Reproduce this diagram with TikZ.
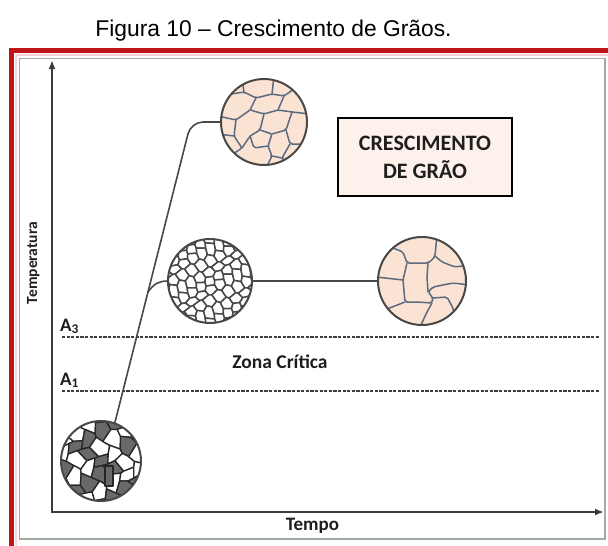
\documentclass[tikz,border=0pt]{standalone}
\usepackage{fontspec}
\setmainfont{Liberation Sans}
\newfontfamily\labelfont{Carlito}
\usetikzlibrary{arrows.meta,calc}

\definecolor{framered}{RGB}{190,20,25}
\definecolor{framepink}{RGB}{250,212,212}
\definecolor{framegray}{RGB}{160,172,162}
\definecolor{axisgray}{RGB}{60,60,60}
\definecolor{peach}{RGB}{251,227,211}
\definecolor{boundary}{RGB}{92,106,128}
\definecolor{rim}{RGB}{72,72,72}
\definecolor{darkgrain}{RGB}{105,105,105}
\definecolor{boxfill}{RGB}{253,241,235}
\definecolor{inkgray}{RGB}{30,30,30}

% one vertex of a jittered hexagonal grain cell
\newcommand{\grv}[1]{({jx(\grx+\grs*cos(60*#1),\gry+\grs*sin(60*#1),\grj)},{jy(\grx+\grs*cos(60*#1),\gry+\grs*sin(60*#1),\grj)})}
% grain field: #1 cell size, #2 jitter, #3 radius, #4 dark threshold, #5 line style
\newcommand{\grainfield}[5]{%
  \def\grs{#1}\def\grj{#2}%
  \foreach \i in {-8,...,8}{%
    \foreach \j in {-6,...,6}{%
      \pgfmathsetmacro\grx{\i*1.5*\grs}%
      \pgfmathsetmacro\gry{(\j+0.5*mod(\i+16,2))*1.7320508*\grs}%
      \pgfmathtruncatemacro\grin{veclen(\grx,\gry)<(#3+\grs) ? 1 : 0}%
      \ifnum\grin=1
        \pgfmathtruncatemacro\grdk{sin(97*\i+131*\j+23)>#4 ? 1 : 0}%
        \ifnum\grdk=1 \def\grfill{darkgrain}\else\def\grfill{white}\fi
        \draw[#5, fill=\grfill] \grv{0} -- \grv{1} -- \grv{2} -- \grv{3} -- \grv{4} -- \grv{5} -- cycle;
      \fi
    }}}

\tikzset{
  axis/.style={draw=axisgray, line width=2pt, -{Latex[length=9pt,width=7pt]}},
  critline/.style={draw=axisgray, line width=2.3pt, dash pattern=on 3.2pt off 1.4pt},
  pathline/.style={draw=rim, line width=1.6pt},
  rimline/.style={draw=rim, line width=2pt},
  coarse/.style={draw=boundary, line width=1.5pt, line join=round, line cap=round, rounded corners=2pt},
  fine/.style={draw=rim, line width=1.5pt, line join=round},
  mixed/.style={draw=black!85, line width=1.3pt, line join=round},
  spot/.style={circle, minimum size=#1, inner sep=0pt},
  lbl/.style={text=inkgray, inner sep=0pt, anchor=base},
}

\begin{document}
\begin{tikzpicture}[x=1pt,y=-1pt,
  declare function={jx(\x,\y,\s)=\x+\s*sin(37*\x+59*\y+11);
                    jy(\x,\y,\s)=\y+\s*sin(53*\x-41*\y+7);}]
\useasboundingbox (0,0) rectangle (608,546);
\fill[white] (0,0) rectangle (608,546);

% caption
\node[inner sep=0pt, anchor=base, font=\fontsize{22.8}{26}\selectfont] (title) at (273.5,36) {Figura 10 – Crescimento de Grãos.};

% frames
\draw[framepink, line width=1.5pt] (608,55) -- (16,55) -- (16,546);
\draw[framered, line width=5pt, line join=miter] (608,50.5) -- (11.5,50.5) -- (11.5,546);
\draw[framegray, line width=1.5pt] (19.5,58.5) rectangle (605,539);

% axes
\coordinate (origin) at (52,512);
\coordinate (ytip) at (52,60);
\coordinate (xtip) at (604,512);
\draw[axis] (origin) -- (ytip);
\draw[axis] ([xshift=-1pt]origin) -- (xtip);
\node[lbl, font=\labelfont\bfseries\fontsize{15.5}{18}\selectfont, rotate=90] (ylabel) at (37,263) {Temperatura};
\node[lbl, font=\labelfont\bfseries\fontsize{19}{22}\selectfont] (xlabel) at (312.5,530.5) {Tempo};

% critical temperatures
\coordinate (a3l) at (62,337); \coordinate (a3r) at (600,337);
\coordinate (a1l) at (62,391); \coordinate (a1r) at (600,391);
\draw[critline] (a3l) -- (a3r);
\draw[critline] (a1l) -- (a1r);
\node[lbl, anchor=base west, font=\labelfont\bfseries\fontsize{19}{22}\selectfont] (a3) at (60,331) {A\textsubscript{3}};
\node[lbl, anchor=base west, font=\labelfont\bfseries\fontsize{19}{22}\selectfont] (a1) at (60,385) {A\textsubscript{1}};
\node[lbl, font=\labelfont\bfseries\fontsize{19.5}{22}\selectfont] (zona) at (280,368) {Zona Crítica};

% title box
\node[draw=black, line width=1.5pt, fill=boxfill, minimum width=174pt, minimum height=78pt, inner sep=0pt] (box) at (425,157) {};
\node[lbl, font=\labelfont\bfseries\fontsize{22}{26}\selectfont] (boxl1) at (425,150) {CRESCIMENTO};
\node[lbl, font=\labelfont\bfseries\fontsize{22}{26}\selectfont] (boxl2) at (425,178) {DE GRÃO};

% microstructure spots
\node[spot=80pt] (start) at (101,461) {};
\node[spot=84pt] (fine) at (210,281) {};
\node[spot=86pt] (hot) at (264,122) {};
\node[spot=88pt] (grown) at (422,281) {};

% heating paths
\coordinate (corner) at (191,122);
\coordinate (fork) at ($(start.70)!0.435!(corner)$);
\draw[pathline, rounded corners=12pt] (start.70) -- (corner) -- (hot.west);
\draw[pathline] (fork) .. controls +(6,-9) and +(-8,0) .. (fine.west);
\draw[pathline] (fine.east) -- (grown.west);

% initial mixed structure
\begin{scope}[shift={(start.center)}]
  \clip (0,0) circle[radius=40pt];
  \fill[white] (0,0) circle[radius=40pt];
  \grainfield{8.5}{3}{40}{0.35}{mixed}
  \draw[mixed, fill=darkgrain] (4,5) rectangle (12,25);
\end{scope}
\draw[rimline] (start.center) circle[radius=40pt];

% fine recrystallised grains
\begin{scope}[shift={(fine.center)}]
  \clip (0,0) circle[radius=42pt];
  \fill[white] (0,0) circle[radius=42pt];
  \grainfield{6}{1.8}{42}{2}{fine}
\end{scope}
\draw[rimline] (fine.center) circle[radius=42pt];

% coarse grains at high temperature
\begin{scope}[shift={(hot.center)}]
  \fill[peach] (0,0) circle[radius=43pt];
  \clip (0,0) circle[radius=43pt];
  \draw[coarse] (-33,-28) -- (-20,-30) -- (-8,-24) -- (8,-28) -- (20,-26) -- (30,-33);
  \draw[coarse] (-20,-30) -- (-22,-44);
  \draw[coarse] (8,-28) -- (10,-46);
  \draw[coarse] (-8,-24) -- (-14,-12) -- (0,-8) -- (14,-12) -- (28,-10) -- (46,-8);
  \draw[coarse] (20,-26) -- (14,-12);
  \draw[coarse] (-46,-6) -- (-28,-2) -- (-14,-12);
  \draw[coarse] (-28,-2) -- (-30,14) -- (-22,26) -- (-34,34);
  \draw[coarse] (-30,14) -- (-46,12);
  \draw[coarse] (0,-8) -- (-4,8) -- (-14,14) -- (-22,26);
  \draw[coarse] (-4,8) -- (8,12) -- (4,24) -- (8,34) -- (2,46);
  \draw[coarse] (8,12) -- (22,8) -- (28,-10);
  \draw[coarse] (22,8) -- (26,22) -- (46,22);
  \draw[coarse] (4,24) -- (-10,26) -- (-14,14);
  \draw[coarse] (26,22) -- (18,36) -- (22,46);
  \draw[coarse] (8,34) -- (18,36);
\end{scope}
\draw[rimline] (hot.center) circle[radius=43pt];

% coarse grains after holding
\begin{scope}[shift={(grown.center)}]
  \fill[peach] (0,0) circle[radius=44pt];
  \clip (0,0) circle[radius=44pt];
  \draw[coarse] (-29,-33) -- (-19,-29) -- (-15,-18) -- (6,-18) -- (10,-21) -- (13,-25) -- (15,-46);
  \draw[coarse] (13,-25) -- (20,-19) -- (33,-14) -- (48,-16);
  \draw[coarse] (-15,-18) -- (-19,-1) -- (-17,21) -- (-5,21) -- (10,22) -- (11,17) -- (6,11) -- (11,6) -- (31,2) -- (48,4);
  \draw[coarse] (6,-18) -- (5,-4) -- (6,11);
  \draw[coarse] (-19,-1) -- (-46,-4);
  \draw[coarse] (-17,21) -- (-40,30);
  \draw[coarse] (10,22) -- (5,31) -- (-2,46);
  \draw[coarse] (11,17) -- (25,16) -- (31,27) -- (34,46);
\end{scope}
\draw[rimline] (grown.center) circle[radius=44pt];
\end{tikzpicture}
\end{document}
